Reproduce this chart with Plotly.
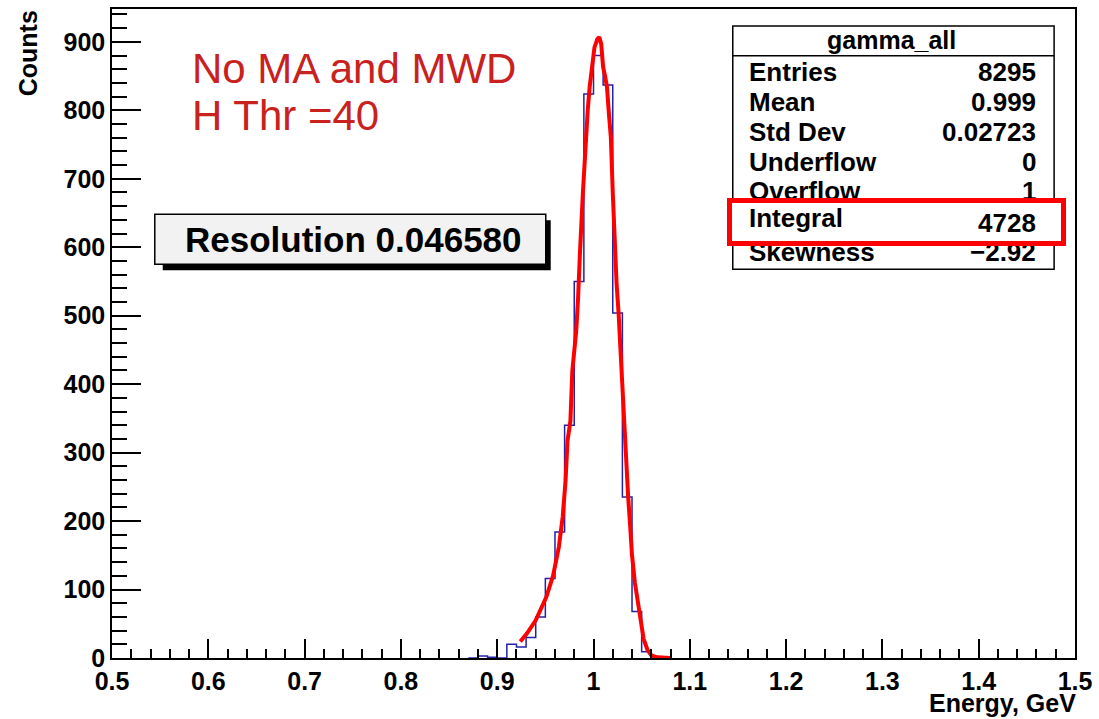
import plotly.graph_objects as go

# ---------------- data ----------------
bin_edges = [0.87, 0.88, 0.89, 0.90, 0.91, 0.92, 0.93, 0.94, 0.95, 0.96, 0.97,
             0.98, 0.99, 1.00, 1.01, 1.02, 1.03, 1.04, 1.05, 1.06, 1.07, 1.08]
bin_counts = [0, 3, 1, 0, 20, 16, 30, 60, 116, 184, 340,
              550, 824, 880, 837, 504, 235, 68, 9, 1, 0]

fit_x = [0.924, 0.931, 0.940, 0.951, 0.958, 0.961, 0.964, 0.968, 0.971, 0.973,
         0.976, 0.978, 0.982, 0.984, 0.985, 0.986, 0.989, 0.992, 0.994, 0.996,
         0.998, 1.001, 1.004, 1.006, 1.008, 1.010, 1.012, 1.014, 1.016, 1.018,
         1.020, 1.022, 1.024, 1.026, 1.028, 1.030, 1.032, 1.034, 1.036, 1.038,
         1.040, 1.043, 1.047, 1.052, 1.056, 1.060, 1.066, 1.072, 1.080]
fit_y = [24, 36, 55, 89, 120, 143, 162, 206, 259, 317,
         346, 419, 477, 526, 565, 594, 680, 758, 800, 834,
         863, 892, 904, 907, 897, 863, 850, 834, 795, 761,
         680, 594, 546, 505, 448, 400, 346, 285, 235, 195,
         150, 110, 70, 28, 12, 4, 1, 0, 0]

stats_title = "gamma_all"
stats_labels = ["Entries", "Mean", "Std Dev", "Underflow", "Overflow", "Skewness"]
stats_values = ["8295", "0.999", "0.02723", "0", "1", "\u22122.92"]
integral_label = "Integral"
integral_value = "4728"

x_ticks = [0.5, 0.6, 0.7, 0.8, 0.9, 1.0, 1.1, 1.2, 1.3, 1.4, 1.5]
y_ticks = [0, 100, 200, 300, 400, 500, 600, 700, 800, 900]

# ---------------- layout helpers (pixel -> paper) ----------------
L, R, T, B = 112, 1080, 7, 658
def px(x):
    return (x - L) / (R - L)
def py(y):
    return (B - y) / (B - T)

FONT = "Liberation Sans, Arial, Helvetica, sans-serif"

fig = go.Figure()

# histogram outline
fig.add_trace(go.Scatter(
    x=bin_edges, y=bin_counts + [bin_counts[-1]],
    mode="lines", line=dict(color="#2222aa", width=1.5, shape="hv"),
    hoverinfo="skip", showlegend=False))

# fit curve
fig.add_trace(go.Scatter(
    x=fit_x, y=fit_y, mode="lines",
    line=dict(color="#ff0000", width=4),
    hoverinfo="skip", showlegend=False))

axis_common = dict(
    showline=True, linecolor="black", linewidth=1.5, mirror=True,
    showgrid=False, zeroline=False, ticks="inside", tickcolor="black",
    tickwidth=1.5,
    tickfont=dict(family=FONT, size=25, color="black", weight="bold"),
)

fig.update_xaxes(
    range=[0.5, 1.5], tickvals=x_ticks,
    ticktext=[("%g" % v) for v in x_ticks],
    ticklen=19,
    minor=dict(dtick=0.02, ticklen=9, ticks="inside", tickcolor="black", tickwidth=1.5),
    **axis_common)
fig.update_yaxes(
    range=[0, 948], tickvals=y_ticks,
    ticklen=29,
    minor=dict(dtick=20, ticklen=15, ticks="inside", tickcolor="black", tickwidth=1.5),
    **axis_common)

shapes = []
# stats box
shapes.append(dict(type="rect", xref="paper", yref="paper",
                   x0=px(736), x1=px(1059), y0=py(268), y1=py(24),
                   line=dict(color="black", width=1.5), fillcolor="white", layer="above"))
shapes.append(dict(type="line", xref="paper", yref="paper",
                   x0=px(736), x1=px(1059), y0=py(54), y1=py(54),
                   line=dict(color="black", width=1.5), layer="above"))
# resolution box shadow + box
shapes.append(dict(type="rect", xref="paper", yref="paper",
                   x0=px(163), x1=px(553), y0=py(269), y1=py(219),
                   line=dict(color="black", width=0), fillcolor="black", layer="above"))
shapes.append(dict(type="rect", xref="paper", yref="paper",
                   x0=px(155), x1=px(548), y0=py(263), y1=py(213),
                   line=dict(color="black", width=1.5), fillcolor="#f2f2f2", layer="above"))

ann = []
def text(x, y, s, size=24, xanchor="left", color="black", bold=True, angle=0):
    ann.append(dict(xref="paper", yref="paper", x=px(x), y=py(y), text=s,
                    showarrow=False, xanchor=xanchor, yanchor="middle",
                    textangle=angle,
                    font=dict(family=FONT, size=size, color=color,
                              weight="bold" if bold else "normal")))

# axis titles
text(27, 51, "Counts", size=25, xanchor="center", angle=-90)
text(1083, 703, "Energy, GeV", size=25, xanchor="right")

# red notes
text(190, 67, "No MA and MWD", size=42, color="#c9211e", bold=False)
text(190, 114, "H Thr =40", size=42, color="#c9211e", bold=False)

# resolution
text(355, 238, "Resolution 0.046580", size=35, xanchor="center")

# stats box
text(896, 38, stats_title, size=25, xanchor="center")
row_y = [70, 100, 130, 160, 190, 251]
for lab, val, yy in zip(stats_labels, stats_values, row_y):
    text(750, yy, lab, size=26)
    text(1043, yy, val, size=26, xanchor="right")

# red highlight box (white fill hides neighbouring rows)
ann.append(dict(xref="paper", yref="paper", x=px(900.5), y=py(221), text=" ",
                showarrow=False, xanchor="center", yanchor="middle",
                width=329, height=38, borderpad=0, borderwidth=5,
                bordercolor="#ff0000", bgcolor="white",
                font=dict(family=FONT, size=10)))
text(750, 217, integral_label, size=26)
text(1043, 222, integral_value, size=26, xanchor="right")

fig.update_layout(
    width=1099, height=719, autosize=False,
    margin=dict(l=L, r=1099 - R, t=T, b=719 - B),
    paper_bgcolor="white", plot_bgcolor="white",
    shapes=shapes, annotations=ann,
    showlegend=False,
)

fig.write_html("out.html")
